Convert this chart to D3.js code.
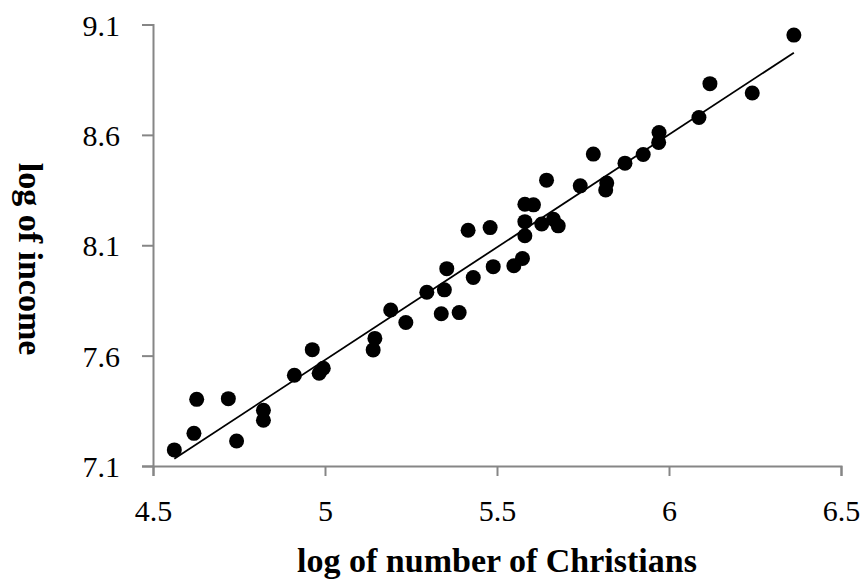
<!DOCTYPE html>
<html lang="en">
<head>
  <meta charset="UTF-8">
  <title></title>
  <style>
    html, body {
      margin: 0;
      background: #fff;
      overflow: hidden;
      width: 100%;
      height: 100%;
    }
    svg {
      position: absolute;
      top: 0;
      left: 0;
    }
    text {
      font-family: "Palatino Linotype", "Book Antiqua", Palatino, "Liberation Serif", serif;
    }
  </style>
</head>
<body>
  <svg width="864" height="580"></svg>
</body>
<script src="https://d3js.org/d3.v7.min.js"></script>
<script type="text/javascript">
  // log of number of Christians
  const logChristians = [
    4.562, 4.619, 4.627, 4.719, 4.743, 4.821, 4.821, 4.911, 4.963, 4.983,
    4.995, 5.145, 5.140, 5.191, 5.235, 5.296, 5.347, 5.354, 5.338, 5.390,
    5.431, 5.416, 5.480, 5.489, 5.549, 5.574, 5.581, 5.581, 5.581, 5.606,
    5.630, 5.664, 5.678, 5.644, 5.742, 5.780, 5.819, 5.816, 5.872, 5.925,
    5.971, 5.970, 6.087, 6.119, 6.242, 6.363
  ]
  // log of income
  const logIncome = [
    7.173, 7.248, 7.402, 7.405, 7.213, 7.352, 7.307, 7.511, 7.627, 7.520,
    7.543, 7.678, 7.626, 7.807, 7.750, 7.887, 7.898, 7.994, 7.790, 7.795,
    7.954, 8.168, 8.180, 8.003, 8.007, 8.040, 8.143, 8.207, 8.286, 8.283,
    8.196, 8.218, 8.188, 8.395, 8.369, 8.513, 8.382, 8.350, 8.472, 8.511,
    8.611, 8.566, 8.679, 8.832, 8.790, 9.052
  ]

  const xTicks = [4.5, 5, 5.5, 6, 6.5]
  const yTicks = [7.1, 7.6, 8.1, 8.6, 9.1]

  const svg = d3.select('svg')
  const axisColor = '#868686'

  const x = d3.scaleLinear().domain([4.5, 6.5]).range([153, 841])
  const y = d3.scaleLinear().domain([7.1, 9.1]).range([466, 24.5])

  const points = logChristians.map((d, i) => ({ x: d, y: logIncome[i] }))

  // axes
  const xAxis = svg.append('g')
    .attr('transform', 'translate(0,' + y(7.1) + ')')
    .call(d3.axisBottom(x).tickValues(xTicks).tickSize(10).tickPadding(24)
      .tickFormat(d3.format('')))
  const yAxis = svg.append('g')
    .attr('transform', 'translate(' + x(4.5) + ',0)')
    .call(d3.axisLeft(y).tickValues(yTicks).tickSize(11).tickPadding(22)
      .tickFormat(d3.format('')))

  for (const g of [xAxis, yAxis]) {
    g.select('.domain').attr('stroke', axisColor).attr('stroke-width', 2)
    g.selectAll('.tick line').attr('stroke', axisColor).attr('stroke-width', 2)
    g.selectAll('.tick text')
      .attr('fill', '#000')
      .style('font-size', '30px')
      .style('font-family', '"Palatino Linotype", "Book Antiqua", Palatino, "Liberation Serif", serif')
  }
  yAxis.selectAll('.tick text').attr('dy', '0.35em')

  // least squares trend line over the data range
  const mx = d3.mean(points, d => d.x)
  const my = d3.mean(points, d => d.y)
  const slope = d3.sum(points, d => (d.x - mx) * (d.y - my)) /
    d3.sum(points, d => (d.x - mx) * (d.x - mx))
  const intercept = my - slope * mx
  const [x0, x1] = d3.extent(points, d => d.x)

  svg.append('line')
    .attr('x1', x(x0))
    .attr('y1', y(intercept + slope * x0))
    .attr('x2', x(x1))
    .attr('y2', y(intercept + slope * x1))
    .attr('stroke', '#000')
    .attr('stroke-width', 1.8)

  svg.selectAll('circle')
    .data(points)
    .enter()
    .append('circle')
    .attr('cx', d => x(d.x))
    .attr('cy', d => y(d.y))
    .attr('r', 7.5)
    .attr('fill', '#000')

  // axis titles
  svg.append('text')
    .attr('x', 497)
    .attr('y', 572)
    .attr('text-anchor', 'middle')
    .style('font-size', '34px')
    .style('font-weight', 'bold')
    .text('log of number of Christians')

  svg.append('text')
    .attr('transform', 'translate(19,259) rotate(90)')
    .attr('text-anchor', 'middle')
    .style('font-size', '34px')
    .style('font-weight', 'bold')
    .text('log of income')
</script>
</html>
